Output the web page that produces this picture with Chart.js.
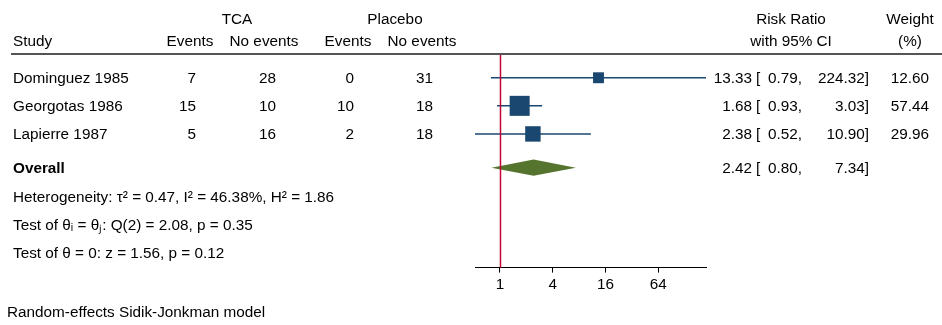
<!DOCTYPE html>
<html>
<head>
<meta charset="utf-8">
<script src="https://cdn.jsdelivr.net/npm/chart.js@4.4.1/dist/chart.umd.min.js"></script>
<style>
  html, body { margin: 0; padding: 0; background: #fff; }
</style>
</head>
<body>
<canvas id="forest" width="942" height="325"></canvas>
<script>
// ---- data ----
const studies = ["Dominguez 1985", "Georgotas 1986", "Lapierre 1987"];
const tcaEvents = [7, 15, 5];
const tcaNoEvents = [28, 10, 16];
const placeboEvents = [0, 10, 2];
const placeboNoEvents = [31, 18, 18];
const riskRatio = [13.33, 1.68, 2.38];
const ciLow = [0.79, 0.93, 0.52];
const ciHigh = [224.32, 3.03, 10.90];
const weights = [12.60, 57.44, 29.96];
const overallRR = 2.42;
const overallLow = 0.80;
const overallHigh = 7.34;
const xTicks = [1, 4, 16, 64];
const statLines = [
    "Heterogeneity: \u03c4\u00b2 = 0.47, I\u00b2 = 46.38%, H\u00b2 = 1.86",
    "Test of \u03b8\u1d62 = \u03b8\u2c7c: Q(2) = 2.08, p = 0.35",
    "Test of \u03b8 = 0: z = 1.56, p = 0.12"
];
const footNote = "Random-effects Sidik-Jonkman model";

// ---- layout ----
const studyRows = [0, 1, 2];
const overallRow = 3.2;
const statRows = [4.24, 5.24, 6.22];
const navy = "#1a476f";
const green = "#55752f";
const cranberry = "#c10534";
const FONT = "'Liberation Sans', Arial, Helvetica, sans-serif";
const FS = 15.3;

Chart.defaults.font.family = FONT;
Chart.defaults.font.size = FS;
Chart.defaults.color = "#000";

const fmt = v => v.toFixed(2);

function text(ctx, s, x, y, align, bold) {
    ctx.font = (bold ? "bold " : "") + FS + "px " + FONT;
    ctx.textAlign = align || "left";
    ctx.textBaseline = "middle";
    ctx.fillStyle = "#000";
    ctx.fillText(s, x, y);
}

function ciText(ctx, y, est, lo, hi) {
    text(ctx, fmt(est), 752, y, "right");
    text(ctx, "[", 756, y, "left");
    text(ctx, fmt(lo) + ",", 802, y, "right");
    text(ctx, fmt(hi) + "]", 869, y, "right");
}

const forestPlugin = {
    id: "forest",
    afterDatasetsDraw(chart) {
        const ctx = chart.ctx;
        const xs = chart.scales.x, ys = chart.scales.y;
        const area = chart.chartArea;
        // overall diamond
        const yc = ys.getPixelForValue(overallRow);
        ctx.save();
        ctx.beginPath();
        ctx.moveTo(xs.getPixelForValue(overallLow), yc);
        ctx.lineTo(xs.getPixelForValue(overallRR), yc - 8.2);
        ctx.lineTo(xs.getPixelForValue(overallHigh), yc);
        ctx.lineTo(xs.getPixelForValue(overallRR), yc + 8.2);
        ctx.closePath();
        ctx.fillStyle = green;
        ctx.fill();
        // null line
        const x1 = Math.round(xs.getPixelForValue(1)) + 0.5;
        ctx.beginPath();
        ctx.moveTo(x1, area.top);
        ctx.lineTo(x1, area.bottom);
        ctx.strokeStyle = cranberry;
        ctx.lineWidth = 1.5;
        ctx.stroke();
        ctx.restore();
    },
    afterDraw(chart) {
        const ctx = chart.ctx;
        const ys = chart.scales.y;
        ctx.save();
        // header
        text(ctx, "TCA", 237, 20, "center");
        text(ctx, "Placebo", 395, 20, "center");
        text(ctx, "Risk Ratio", 791, 20, "center");
        text(ctx, "Weight", 910, 20, "center");
        text(ctx, "Study", 13, 42, "left");
        text(ctx, "Events", 190, 42, "center");
        text(ctx, "No events", 264, 42, "center");
        text(ctx, "Events", 348, 42, "center");
        text(ctx, "No events", 422, 42, "center");
        text(ctx, "with 95% CI", 791, 42, "center");
        text(ctx, "(%)", 910, 42, "center");
        ctx.beginPath();
        ctx.moveTo(11, 54);
        ctx.lineTo(942, 54);
        ctx.strokeStyle = "#555";
        ctx.lineWidth = 2;
        ctx.stroke();
        // study rows
        studies.forEach((s, i) => {
            const y = ys.getPixelForValue(studyRows[i]) + 1;
            text(ctx, s, 13, y, "left");
            text(ctx, String(tcaEvents[i]), 196, y, "right");
            text(ctx, String(tcaNoEvents[i]), 276, y, "right");
            text(ctx, String(placeboEvents[i]), 354, y, "right");
            text(ctx, String(placeboNoEvents[i]), 433, y, "right");
            ciText(ctx, y, riskRatio[i], ciLow[i], ciHigh[i]);
            text(ctx, fmt(weights[i]), 929, y, "right");
        });
        // overall
        const yo = ys.getPixelForValue(overallRow) + 1;
        text(ctx, "Overall", 13, yo, "left", true);
        ciText(ctx, yo, overallRR, overallLow, overallHigh);
        statLines.forEach((s, i) => {
            text(ctx, s, 13, ys.getPixelForValue(statRows[i]) + 1, "left");
        });
        text(ctx, footNote, 7, 313, "left");
        ctx.restore();
    }
};

const ciSets = studies.map((s, i) => ({
    type: "line",
    label: s + " CI",
    data: [{ x: ciLow[i], y: studyRows[i] }, { x: ciHigh[i], y: studyRows[i] }],
    borderColor: navy,
    borderWidth: 1.5,
    pointRadius: 0,
    showLine: true,
    clip: false
}));

new Chart(document.getElementById("forest"), {
    type: "scatter",
    data: {
        datasets: [{
            label: "Risk ratio",
            data: riskRatio.map((v, i) => ({ x: v, y: studyRows[i] })),
            pointStyle: "rect",
            // square side grows with study weight
            pointRadius: c => 2.8 * Math.pow(weights[c.dataIndex], 0.4),
            backgroundColor: navy,
            borderColor: navy,
            borderWidth: 0,
            clip: false
        }, ...ciSets]
    },
    options: {
        responsive: false,
        animation: false,
        events: [],
        layout: { padding: { left: 475, right: 236, top: 55, bottom: 28 } },
        plugins: { legend: { display: false }, tooltip: { enabled: false } },
        scales: {
            x: {
                type: "logarithmic",
                min: 0.52,
                max: 224.32,
                afterBuildTicks: s => { s.ticks = xTicks.map(v => ({ value: v })); },
                ticks: {
                    callback: v => String(v),
                    color: "#000",
                    padding: 3,
                    autoSkip: false,
                    maxRotation: 0,
                    font: { size: FS }
                },
                grid: { drawOnChartArea: false, tickLength: 5, color: "#000", lineWidth: 1 },
                border: { color: "#000", width: 1 }
            },
            y: {
                type: "linear",
                reverse: true,
                min: -0.81,
                max: 6.76,
                display: false
            }
        }
    },
    plugins: [forestPlugin]
});
</script>
</body>
</html>
